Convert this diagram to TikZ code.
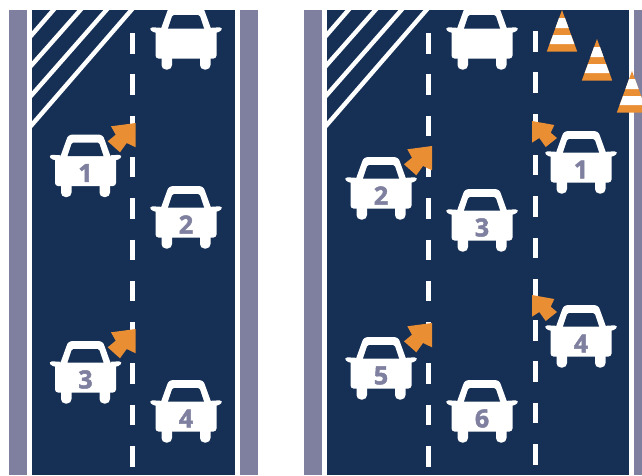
\documentclass[tikz,border=0pt]{standalone}
\usepackage{fontspec}
\setmainfont[BoldFeatures={FakeBold=2}]{Open Sans}
\definecolor{navy}{HTML}{152F55}
\definecolor{shoulder}{HTML}{7F809F}
\definecolor{cone}{HTML}{E98E33}
\tikzset{
  x=1pt,y=-1pt,
  hatch/.style={draw=white,line width=4.4pt},
  dashline/.style={draw=white,line width=5pt,dash pattern=on 20.5pt off 20.8pt},
  carnum/.style={text=shoulder,font=\fontsize{25}{25}\selectfont\bfseries,inner sep=0pt},
  carbody/.pic={
    \fill[white,rounded corners=3pt] (-30.5,22) rectangle (30.5,51.5);
    \fill[white] (-25.5,23) -- (-19,5) .. controls (-18,1.5) and (-16,0) .. (-12,0) -- (12,0) .. controls (16,0) and (18,1.5) .. (19,5) -- (25.5,23) -- cycle;
    \fill[navy] (-18,21.5) -- (-14,9.5) .. controls (-13.6,8.3) and (-13,8) .. (-12,8) -- (12,8) .. controls (13,8) and (13.6,8.3) .. (14,9.5) -- (18,21.5) -- cycle;
    \fill[white] (-25,20.8) -- (-33.5,20.3) .. controls (-36,20.2) and (-36.5,22.5) .. (-35,23.5) .. controls (-33.5,24.8) and (-32,25.5) .. (-29,26) -- (-25,26) -- cycle;
    \fill[white] (25,20.8) -- (33.5,20.3) .. controls (36,20.2) and (36.5,22.5) .. (35,23.5) .. controls (33.5,24.8) and (32,25.5) .. (29,26) -- (25,26) -- cycle;
    \fill[white,rounded corners=4.4pt] (-24.5,45) rectangle (-14,62.5);
    \fill[white,rounded corners=4.4pt] (14,45) rectangle (24.5,62.5);
  },
  car/.pic={
    \pic {carbody};
    \node[carnum] (-num) at (0,38.5) {#1};
  },
  arrowR/.pic={\fill[cone] (0,0) -- (-24.7,3.3) -- (-20,11.7) -- (-28,18.3) -- (-15.7,29.3) -- (-9,20) -- (0,24.3) -- cycle;},
  arrowL/.pic={\fill[cone] (0,0) -- (22.3,4) -- (18.7,11.7) -- (25,17) -- (13.7,26) -- (7.3,17) -- (0,21.7) -- cycle;},
  trafficcone/.pic={
    \fill[cone] (0,0) -- (15.2,41.5) -- (-15.2,41.5) -- cycle;
    \fill[white] (-3,8) -- (3,8) -- (6.6,18) -- (-6.6,18) -- cycle;
    \fill[white] (-9,25) -- (9,25) -- (12.3,34) -- (-12.3,34) -- cycle;
  },
}
\begin{document}
\begin{tikzpicture}
\useasboundingbox (0,0) rectangle (642,475);
\clip (0,10) rectangle (642,475);
% left road
\fill[shoulder] (9,10) rectangle (27,475);
\fill[white] (27,10) rectangle (32,475);
\fill[navy] (32,10) rectangle (235,475);
\fill[white] (235,10) rectangle (240,475);
\fill[shoulder] (240,10) rectangle (258,475);
\begin{scope}
  \clip (32,10) rectangle (235,475);
  \draw[hatch] (30,37) -- (56,7);
  \draw[hatch] (30,67) -- (83,7);
  \draw[hatch] (30,97) -- (109,7);
  \draw[hatch] (30,127) -- (134,7);
\end{scope}
\draw[dashline] (132.5,33) -- (132.5,475);
% right road
\fill[shoulder] (304,10) rectangle (322,475);
\fill[white] (322,10) rectangle (327,475);
\fill[navy] (327,10) rectangle (629,475);
\fill[white] (629,10) rectangle (634,475);
\fill[shoulder] (634,10) rectangle (642,475);
\begin{scope}
  \clip (327,10) rectangle (629,475);
  \draw[hatch] (325,37) -- (351,7);
  \draw[hatch] (325,67) -- (378,7);
  \draw[hatch] (325,97) -- (404,7);
  \draw[hatch] (325,127) -- (429,7);
\end{scope}
\draw[dashline] (428.5,33) -- (428.5,475);
\draw[dashline] (535,31) -- (535,475);
% cones
\pic at (562,10) {trafficcone};
\pic at (597,39) {trafficcone};
\pic at (632,71) {trafficcone};
% arrows
\pic at (135.7,123) {arrowR};
\pic at (135.7,329) {arrowR};
\pic at (432,146) {arrowR};
\pic at (432,323) {arrowR};
\pic at (532,121) {arrowL};
\pic at (532,295) {arrowL};
% cars left
\pic at (186,7) {carbody};
\pic (a) at (85.5,134.5) {car=1};
\pic (b) at (186,186) {car=2};
\pic (c) at (85.5,341) {car=3};
\pic (d) at (186,380) {car=4};
% cars right
\pic at (482,7) {carbody};
\pic (e) at (381,157) {car=2};
\pic (f) at (482,189) {car=3};
\pic (g) at (381,337) {car=5};
\pic (h) at (482,380) {car=6};
\pic (i) at (581,131) {car=1};
\pic (j) at (581,305) {car=4};
\end{tikzpicture}
\end{document}
